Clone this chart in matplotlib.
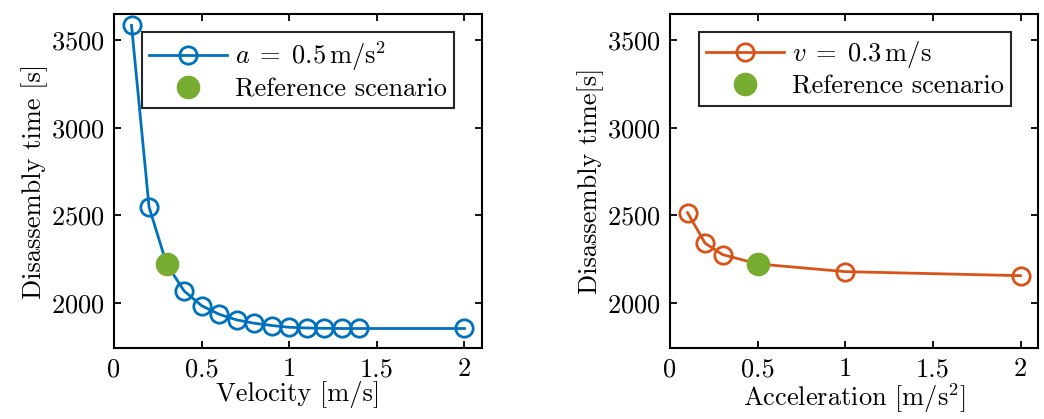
import matplotlib
matplotlib.use("Agg")
import matplotlib.pyplot as plt

plt.rcParams['font.family'] = 'cmr10'
plt.rcParams['mathtext.fontset'] = 'cm'
plt.rcParams['axes.unicode_minus'] = False
plt.rcParams['axes.formatter.use_mathtext'] = True

# velocity sweep, a = 0.5 m/s^2
velocity = [0.1, 0.2, 0.3, 0.4, 0.5, 0.6, 0.7, 0.8, 0.9, 1.0, 1.1, 1.2, 1.3, 1.4, 2.0]
time_vs_velocity = [3583, 2548, 2224, 2070, 1986, 1937, 1905, 1886, 1873, 1863, 1859, 1857, 1856, 1856, 1856]

# acceleration sweep, v = 0.3 m/s
acceleration = [0.1, 0.2, 0.3, 0.5, 1.0, 2.0]
time_vs_acceleration = [2516, 2342, 2277, 2224, 2180, 2157]

# reference scenario v = 0.3 m/s, a = 0.5 m/s^2
ref_velocity = 0.3
ref_acceleration = 0.5
ref_time = 2224

blue = '#0072BD'
orange = '#D95319'
green = '#77AC30'
fs = 19

fig = plt.figure(figsize=(10.44, 4.19), dpi=100)
ax1 = fig.add_axes([0.1092, 0.1695, 0.3525, 0.7971])
ax2 = fig.add_axes([0.6418, 0.1695, 0.3525, 0.7971])

ax1.plot(velocity, time_vs_velocity, '-o', color=blue, lw=2.0, ms=12.5,
         mfc='none', mew=2.0, label=r'$a\;=\;0.5\,\mathrm{m/s^2}$')
ax1.plot(ref_velocity, ref_time, 'o', color=green, ms=16, label='Reference scenario')

ax2.plot(acceleration, time_vs_acceleration, '-o', color=orange, lw=2.0, ms=12.5,
         mfc='none', mew=2.0, label=r'$v\;=\;0.3\,\mathrm{m/s}$')
ax2.plot(ref_acceleration, ref_time, 'o', color=green, ms=16, label='Reference scenario')

ax1.set_xlabel('Velocity [m/s]', fontsize=fs)
ax1.set_ylabel('Disassembly time [s]', fontsize=fs)
ax2.set_xlabel(r'Acceleration [m/s$^2$]', fontsize=fs)
ax2.set_ylabel('Disassembly time[s]', fontsize=fs)

#legend anchor (right, top) in axes coords
legend_anchor = {ax1: (0.924, 0.946), ax2: (0.927, 0.946)}

for ax in (ax1, ax2):
    ax.set_xlim(0, 2.1)
    ax.set_ylim(1745, 3648)
    ax.set_xticks([0, 0.5, 1, 1.5, 2])
    ax.set_xticklabels(['0', '0.5', '1', '1.5', '2'])
    ax.set_yticks([2000, 2500, 3000, 3500])
    ax.tick_params(direction='in', top=True, right=True, length=5, width=1.3,
                   labelsize=fs, pad=7)
    for s in ax.spines.values():
        s.set_linewidth(1.5)
    ax.xaxis.labelpad = 0
    ax.yaxis.labelpad = 2
    leg = ax.legend(loc='upper right', bbox_to_anchor=legend_anchor[ax], fontsize=fs,
                    fancybox=False, edgecolor='#262626', framealpha=1,
                    handlelength=2.95, borderpad=0.28, labelspacing=0.15,
                    handletextpad=0.3, borderaxespad=0)
    leg.get_frame().set_linewidth(1.5)

fig.savefig('out.png', dpi=100)
